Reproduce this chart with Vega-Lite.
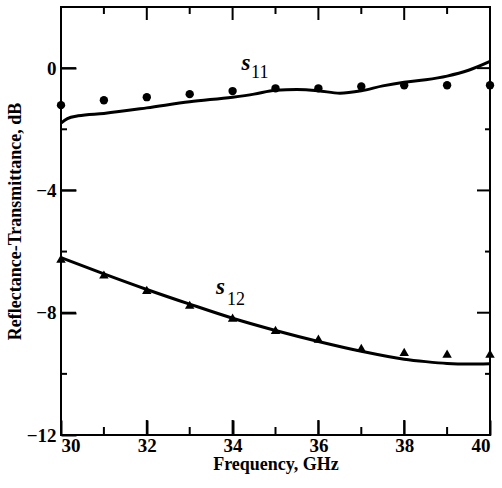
{
  "$schema": "https://vega.github.io/schema/vega-lite/v6.json",
  "autosize": {"type": "none"},
  "width": 429,
  "height": 428,
  "padding": {"left": 61, "top": 7, "right": 12, "bottom": 53},
  "background": "white",
  "config": {
    "view": {"stroke": "black", "strokeWidth": 2},
    "axis": {
      "grid": false, "domain": false,
      "labelFont": "Liberation Serif, Times New Roman, serif", "labelFontSize": 19, "labelFontWeight": "bold", "labelColor": "black",
      "titleFont": "Liberation Serif, Times New Roman, serif", "titleFontSize": 18, "titleFontWeight": "bold", "titleColor": "black"
    }
  },
  "datasets": {
    "curve": [
      {"freq": 30, "dB": -1.8, "series": "s11"},
      {"freq": 30.15, "dB": -1.65, "series": "s11"},
      {"freq": 30.4, "dB": -1.56, "series": "s11"},
      {"freq": 31, "dB": -1.48, "series": "s11"},
      {"freq": 32, "dB": -1.3, "series": "s11"},
      {"freq": 33, "dB": -1.1, "series": "s11"},
      {"freq": 34, "dB": -0.95, "series": "s11"},
      {"freq": 34.5, "dB": -0.85, "series": "s11"},
      {"freq": 35, "dB": -0.72, "series": "s11"},
      {"freq": 35.5, "dB": -0.7, "series": "s11"},
      {"freq": 36, "dB": -0.74, "series": "s11"},
      {"freq": 36.5, "dB": -0.82, "series": "s11"},
      {"freq": 37, "dB": -0.74, "series": "s11"},
      {"freq": 37.5, "dB": -0.58, "series": "s11"},
      {"freq": 38, "dB": -0.46, "series": "s11"},
      {"freq": 38.5, "dB": -0.38, "series": "s11"},
      {"freq": 39, "dB": -0.26, "series": "s11"},
      {"freq": 39.5, "dB": -0.07, "series": "s11"},
      {"freq": 40, "dB": 0.22, "series": "s11"},
      {"freq": 30, "dB": -6.2, "series": "s12"},
      {"freq": 31, "dB": -6.73, "series": "s12"},
      {"freq": 32, "dB": -7.24, "series": "s12"},
      {"freq": 33, "dB": -7.72, "series": "s12"},
      {"freq": 34, "dB": -8.18, "series": "s12"},
      {"freq": 35, "dB": -8.58, "series": "s12"},
      {"freq": 36, "dB": -8.94, "series": "s12"},
      {"freq": 37, "dB": -9.26, "series": "s12"},
      {"freq": 38, "dB": -9.52, "series": "s12"},
      {"freq": 38.5, "dB": -9.6, "series": "s12"},
      {"freq": 39, "dB": -9.66, "series": "s12"},
      {"freq": 39.5, "dB": -9.68, "series": "s12"},
      {"freq": 40, "dB": -9.67, "series": "s12"}
    ],
    "meas": [
      {"freq": 30, "dB": -1.21, "series": "s11"},
      {"freq": 31, "dB": -1.05, "series": "s11"},
      {"freq": 32, "dB": -0.95, "series": "s11"},
      {"freq": 33, "dB": -0.85, "series": "s11"},
      {"freq": 34, "dB": -0.75, "series": "s11"},
      {"freq": 35, "dB": -0.66, "series": "s11"},
      {"freq": 36, "dB": -0.66, "series": "s11"},
      {"freq": 37, "dB": -0.6, "series": "s11"},
      {"freq": 38, "dB": -0.56, "series": "s11"},
      {"freq": 39, "dB": -0.56, "series": "s11"},
      {"freq": 40, "dB": -0.56, "series": "s11"},
      {"freq": 30, "dB": -6.23, "series": "s12"},
      {"freq": 31, "dB": -6.75, "series": "s12"},
      {"freq": 32, "dB": -7.25, "series": "s12"},
      {"freq": 33, "dB": -7.74, "series": "s12"},
      {"freq": 34, "dB": -8.16, "series": "s12"},
      {"freq": 35, "dB": -8.56, "series": "s12"},
      {"freq": 36, "dB": -8.85, "series": "s12"},
      {"freq": 37, "dB": -9.15, "series": "s12"},
      {"freq": 38, "dB": -9.28, "series": "s12"},
      {"freq": 39, "dB": -9.34, "series": "s12"},
      {"freq": 40, "dB": -9.34, "series": "s12"}
    ],
    "labels": [
      {"freq": 34.31, "dB": 0.16, "text": "s", "kind": "main"},
      {"freq": 34.43, "dB": -0.17, "text": "11", "kind": "sub"},
      {"freq": 33.72, "dB": -7.16, "text": "s", "kind": "main"},
      {"freq": 33.87, "dB": -7.57, "text": "12", "kind": "sub"}
    ],
    "xticks": [{"v": 30}, {"v": 31}, {"v": 32}, {"v": 33}, {"v": 34}, {"v": 35}, {"v": 36}, {"v": 37}, {"v": 38}, {"v": 39}, {"v": 40}],
    "yticks": [{"v": -12}, {"v": -10}, {"v": -8}, {"v": -6}, {"v": -4}, {"v": -2}, {"v": 0}, {"v": 2}]
  },
  "resolve": {"axis": {"x": "independent", "y": "independent"}},
  "layer": [
    {
      "data": {"name": "curve"},
      "mark": {"type": "line", "color": "black", "strokeWidth": 3, "interpolate": "monotone"},
      "encoding": {
        "x": {"field": "freq", "type": "quantitative", "scale": {"domain": [30, 40], "nice": false},
          "axis": {"orient": "bottom", "title": "Frequency, GHz", "values": [30,32,34,36,38,40],
            "ticks": true, "tickColor": "black", "tickWidth": 2, "tickOpacity": 1, "offset": -15, "tickSize": 15, "labelPadding": 1, "titlePadding": 0}},
        "y": {"field": "dB", "type": "quantitative", "scale": {"domain": [-12, 2], "nice": false},
          "axis": {"orient": "left", "title": "Reflectance-Transmittance, dB", "values": [-12,-8,-4,0],
            "ticks": true, "tickColor": "black", "tickWidth": 2, "tickOpacity": 1, "offset": -15, "tickSize": 15, "labelPadding": 5, "titlePadding": 2}},
        "detail": {"field": "series"}
      }
    },
    {
      "data": {"name": "xticks"},
      "mark": {"type": "tick", "orient": "vertical", "clip": true, "color": "black", "thickness": 2, "opacity": 1},
      "encoding": {
        "x": {"field": "v", "type": "quantitative", "axis": null},
        "y": {"datum": -12, "type": "quantitative", "axis": null},
        "size": {"condition": {"test": "datum.v % 2 === 0", "value": 30}, "value": 16}
      }
    },
    {
      "data": {"name": "xticks"},
      "mark": {"type": "tick", "orient": "vertical", "clip": true, "color": "black", "thickness": 2, "opacity": 1},
      "encoding": {
        "x": {"field": "v", "type": "quantitative", "axis": null},
        "y": {"datum": 2, "type": "quantitative", "axis": null},
        "size": {"condition": {"test": "datum.v % 2 === 0", "value": 26}, "value": 14}
      }
    },
    {
      "data": {"name": "yticks"},
      "mark": {"type": "tick", "orient": "horizontal", "clip": true, "color": "black", "thickness": 2, "opacity": 1},
      "encoding": {
        "x": {"datum": 30, "type": "quantitative", "axis": null},
        "y": {"field": "v", "type": "quantitative", "axis": null},
        "size": {"condition": {"test": "datum.v % 4 === 0", "value": 30}, "value": 12}
      }
    },
    {
      "data": {"name": "yticks"},
      "mark": {"type": "tick", "orient": "horizontal", "clip": true, "color": "black", "thickness": 2, "opacity": 1},
      "encoding": {
        "x": {"datum": 40, "type": "quantitative", "axis": null},
        "y": {"field": "v", "type": "quantitative", "axis": null},
        "size": {"condition": {"test": "datum.v % 4 === 0", "value": 26}, "value": 10}
      }
    },
    {
      "data": {"name": "meas"},
      "transform": [{"filter": "datum.series === 's11'"}],
      "mark": {"type": "point", "shape": "circle", "filled": true, "color": "black", "size": 70, "opacity": 1},
      "encoding": {
        "x": {"field": "freq", "type": "quantitative", "axis": null},
        "y": {"field": "dB", "type": "quantitative", "axis": null}
      }
    },
    {
      "data": {"name": "meas"},
      "transform": [{"filter": "datum.series === 's12'"}],
      "mark": {"type": "point", "shape": "triangle-up", "filled": true, "color": "black", "size": 90, "opacity": 1},
      "encoding": {
        "x": {"field": "freq", "type": "quantitative", "axis": null},
        "y": {"field": "dB", "type": "quantitative", "axis": null}
      }
    },
    {
      "data": {"name": "labels"},
      "transform": [{"filter": "datum.kind === 'main'"}],
      "mark": {"type": "text", "font": "Liberation Serif, Times New Roman, serif", "fontSize": 23, "fontStyle": "italic", "fontWeight": "bold", "color": "black"},
      "encoding": {
        "x": {"field": "freq", "type": "quantitative", "axis": null},
        "y": {"field": "dB", "type": "quantitative", "axis": null},
        "text": {"field": "text"}
      }
    },
    {
      "data": {"name": "labels"},
      "transform": [{"filter": "datum.kind === 'sub'"}],
      "mark": {"type": "text", "font": "Liberation Serif, Times New Roman, serif", "fontSize": 18, "align": "left", "color": "black"},
      "encoding": {
        "x": {"field": "freq", "type": "quantitative", "axis": null},
        "y": {"field": "dB", "type": "quantitative", "axis": null},
        "text": {"field": "text"}
      }
    }
  ]
}
